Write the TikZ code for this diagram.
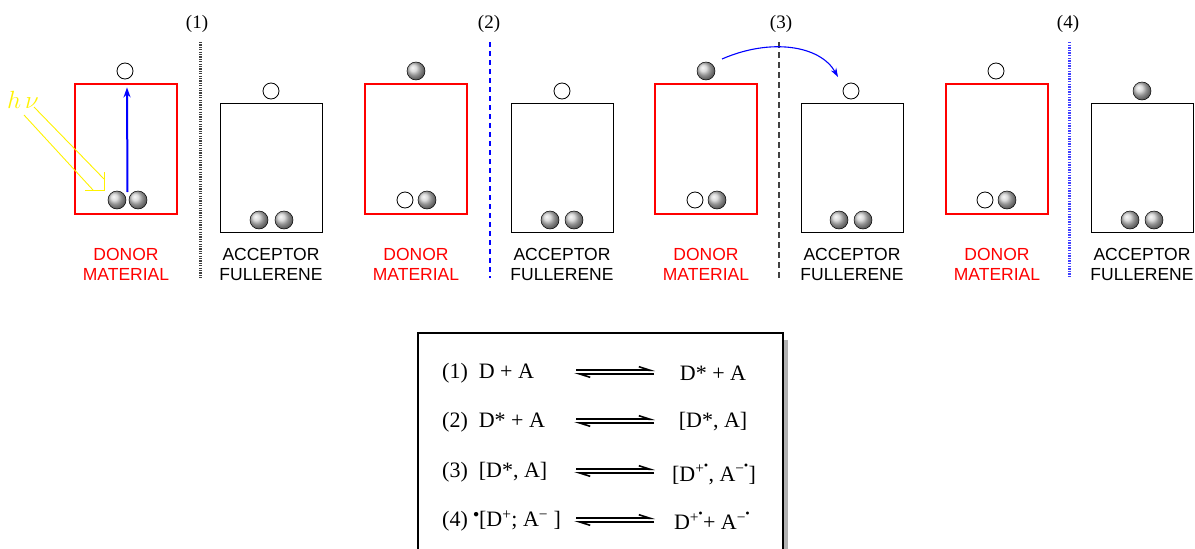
\documentclass[tikz,border=0pt]{standalone}
\usepackage{fontspec}
\setmainfont{Liberation Serif}
\setsansfont{Liberation Sans}
\usetikzlibrary{arrows.meta,calc,shadings}
\newcommand\raddot{\raisebox{0.42em}{\scalebox{0.55}{$\bullet$}}}
\tikzset{
 donorbox/.style={draw=red, line width=1.1pt, minimum width=102pt, minimum height=130pt, inner sep=0pt},
 accbox/.style={draw=black, line width=0.9pt, minimum width=102pt, minimum height=129pt, inner sep=0pt},
 fullball/.style={circle, draw=black, line width=0.5pt, ball color=white!62!gray, minimum size=18pt, inner sep=0pt},
 hole/.style={circle, draw=black, line width=0.8pt, fill=white, minimum size=16pt, inner sep=0pt},
 lbl/.style={font=\sffamily\fontsize{17.5}{20}\selectfont, align=center, inner sep=0pt},
 lblred/.style={lbl, text=red},
 numlbl/.style={font=\fontsize{19}{20}\selectfont, inner sep=0pt},
 eqtext/.style={font=\fontsize{22}{24}\selectfont, inner sep=0pt},
 eqarrow/.style={line width=1.6pt, -{Straight Barb[left, length=11pt, width=7pt]}},
}
\begin{document}
\begin{tikzpicture}[x=1pt,y=-1pt]
\useasboundingbox (0,0) rectangle (1195,549);

% ---------- panel boxes ----------
\node[donorbox] (d1) at (126,149) {};
\node[accbox]   (a1) at (271,167.5) {};
\node[donorbox] (d2) at (416,149) {};
\node[accbox]   (a2) at (562,167.5) {};
\node[donorbox] (d3) at (706,149) {};
\node[accbox]   (a3) at (852,167.5) {};
\node[donorbox] (d4) at (997,149) {};
\node[accbox]   (a4) at (1142,167.5) {};

% ---------- labels ----------
\node[lblred] (ld1) at (126,264) {DONOR\\MATERIAL};
\node[lbl]    (la1) at (271,264) {ACCEPTOR\\FULLERENE};
\node[lblred] (ld2) at (416,264) {DONOR\\MATERIAL};
\node[lbl]    (la2) at (562,264) {ACCEPTOR\\FULLERENE};
\node[lblred] (ld3) at (706,264) {DONOR\\MATERIAL};
\node[lbl]    (la3) at (852,264) {ACCEPTOR\\FULLERENE};
\node[lblred] (ld4) at (997,264) {DONOR\\MATERIAL};
\node[lbl]    (la4) at (1142,264) {ACCEPTOR\\FULLERENE};

% ---------- electrons: panel 1 ----------
\node[hole]     (h1)  at (125,71) {};
\node[fullball] (b1a) at (117,200) {};
\node[fullball] (b1b) at (138,200) {};
\node[hole]     (h2)  at (271,91) {};
\node[fullball] (b2a) at (259,220) {};
\node[fullball] (b2b) at (284,220) {};
% panel 2
\node[fullball] (h3)  at (416,71) {};
\node[hole]     (b3a) at (405,200) {};
\node[fullball] (b3b) at (427,200) {};
\node[hole]     (h4)  at (562,91) {};
\node[fullball] (b4a) at (550,220) {};
\node[fullball] (b4b) at (574,220) {};
% panel 3
\node[fullball] (h5)  at (706,71) {};
\node[hole]     (b5a) at (695,200) {};
\node[fullball] (b5b) at (717,200) {};
\node[hole]     (h6)  at (851,91) {};
\node[fullball] (b6a) at (839,220) {};
\node[fullball] (b6b) at (863,220) {};
% panel 4
\node[hole]     (h7)  at (996,71) {};
\node[hole]     (b7a) at (985,200) {};
\node[fullball] (b7b) at (1007,200) {};
\node[fullball] (h8)  at (1142,91) {};
\node[fullball] (b8a) at (1130,220) {};
\node[fullball] (b8b) at (1154,220) {};

% ---------- excitation ----------
\coordinate (exs) at (127.5,192);
\draw[blue, line width=2pt, -{Stealth[length=10pt, width=7pt]}] (exs) -- ($(h1.south)+(2,8)$);

% photon
\node[font=\fontsize{23}{24}\selectfont, text=yellow, inner sep=0pt] (hv) at (23,100) {$h\,\nu$};
\coordinate (ytip) at (104,190);
\coordinate (yu) at (104,179);
\coordinate (yl) at (93,190);
\coordinate (ys1) at (34,107);
\coordinate (ys2) at (24,115);
\draw[yellow, line width=0.9pt] (ys1) -- (yu);
\draw[yellow, line width=0.9pt] (ys2) -- (yl);
\draw[yellow, line width=0.9pt] (85,190) -- (ytip) -- (104,172);

% ---------- separators ----------
\node[numlbl] (n1) at (197,24) {(1)};
\node[numlbl] (n2) at (489,24) {(2)};
\node[numlbl] (n3) at (781,24) {(3)};
\node[numlbl] (n4) at (1068,24) {(4)};
\coordinate (s1t) at (200,42); \coordinate (s1b) at (200,278);
\coordinate (s2t) at (490,42); \coordinate (s2b) at (490,278);
\coordinate (s3t) at (779,42); \coordinate (s3b) at (779,278);
\coordinate (s4t) at (1069,42); \coordinate (s4b) at (1069,278);
\draw[black!75, line width=3pt, dash pattern=on 1.2pt off 1.2pt] (s1t) -- (s1b);
\draw[blue, line width=1.3pt, dash pattern=on 5pt off 4pt] (s2t) -- (s2b);
\draw[black!75, line width=1.3pt, dash pattern=on 6pt off 4pt] (s3t) -- (s3b);
\draw[blue!75, line width=3pt, dash pattern=on 1.3pt off 1.3pt] (s4t) -- (s4b);

% electron transfer
\coordinate (ets) at (722,59);
\coordinate (ete) at (838,77);
\draw[blue, line width=1.1pt, -{Stealth[length=9pt, width=6pt]}] (ets) .. controls (770,38) and (820,45) .. (ete);

% ---------- equation box ----------
\fill[black!30] (783,340) rectangle (788,551);
\draw[line width=1.1pt] (418,551) -- (418,333) -- (783,333) -- (783,551);

\node[eqtext, anchor=west] (l1) at (442,373) {(1)\ \ D + A};
\node[eqtext, anchor=west] (l2) at (442,422) {(2)\ \ D* + A};
\node[eqtext, anchor=west] (l3) at (442,472) {(3)\ \ [D*, A]};
\node[eqtext, anchor=west] (l4) at (442,521) {(4)\ \raddot[D\textsuperscript{+}; A\textsuperscript{−} ]};
\node[eqtext] (r1) at (713,373) {D* + A};
\node[eqtext] (r2) at (713,422) {[D*, A]};
\node[eqtext] (r3) at (714,474) {[D\textsuperscript{+\raddot}, A\textsuperscript{−\raddot}]};
\node[eqtext] (r4) at (712,521) {D\textsuperscript{+\raddot}+ A\textsuperscript{−\raddot}};

\foreach \r/\y in {1/372,2/421,3/471,4/520}{
  \coordinate (p\r a) at (576,\y-1.8);
  \coordinate (p\r b) at (655,\y-1.8);
  \coordinate (q\r a) at (654,\y+1.8);
  \coordinate (q\r b) at (574,\y+1.8);
  \draw[eqarrow] (p\r a) -- (p\r b);
  \draw[eqarrow] (q\r a) -- (q\r b);
}
\end{tikzpicture}
\end{document}
